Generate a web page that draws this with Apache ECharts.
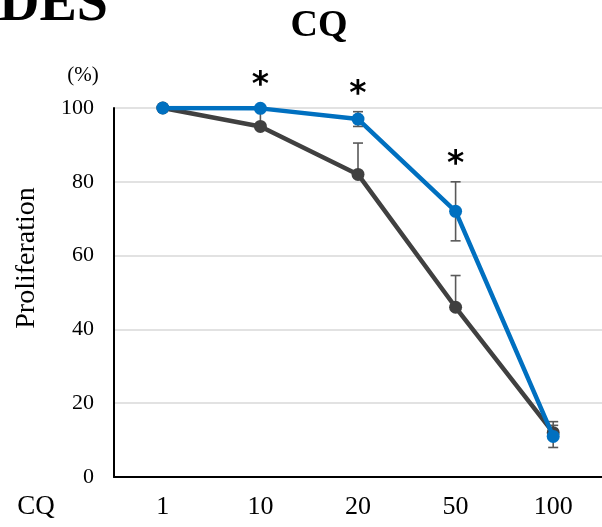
<!DOCTYPE html>
<html>
<head>
<meta charset="utf-8">
<script src="https://cdn.jsdelivr.net/npm/echarts@6/dist/echarts.min.js"></script>
<style>
html,body{margin:0;padding:0;background:#fff;}
#chart{width:602px;height:527px;}
</style>
</head>
<body>
<div id="chart"></div>
<script>
var categories = ['1', '10', '20', '50', '100'];
var blueValues = [100, 99.9, 97, 72, 11];
var blueErr = [0, 0, 2, 8, 3];
var grayValues = [100, 95, 82, 46, 12];
var grayErr = [0, 5, 8.5, 8.6, 3];
var yTicks = [0, 20, 40, 60, 80, 100];
var asteriskCats = ['10', '20', '50'];
var asteriskY = [105.8, 103.4, 84.4];

var SERIF = '"Liberation Serif","Times New Roman",serif';
var chart = echarts.init(document.getElementById('chart'), null, {renderer: 'canvas'});

function errSeries(values, errs, plusOnly, z) {
  var data = values.map(function (v, i) { return [i, v, errs[i]]; });
  return {
    type: 'custom',
    z: z,
    silent: true,
    clip: false,
    data: data,
    renderItem: function (params, api) {
      var i = api.value(0), v = api.value(1), e = api.value(2);
      if (!e) return null;
      var top = api.coord([i, v + e]);
      var mid = api.coord([i, v]);
      var bot = plusOnly ? mid : api.coord([i, v - e]);
      var hw = 5;
      var st = {stroke: '#595959', lineWidth: 1.6};
      var kids = [
        {type: 'line', shape: {x1: top[0], y1: top[1], x2: bot[0], y2: bot[1]}, style: st},
        {type: 'line', shape: {x1: top[0] - hw, y1: top[1], x2: top[0] + hw, y2: top[1]}, style: st}
      ];
      if (!plusOnly) kids.push({type: 'line', shape: {x1: bot[0] - hw, y1: bot[1], x2: bot[0] + hw, y2: bot[1]}, style: st});
      return {type: 'group', children: kids};
    }
  };
}

function asteriskSeries() {
  var data = asteriskCats.map(function (c, i) { return [categories.indexOf(c), asteriskY[i]]; });
  return {
    type: 'custom',
    z: 6,
    silent: true,
    clip: false,
    data: data,
    renderItem: function (params, api) {
      var p = api.coord([api.value(0), api.value(1)]);
      return {
        type: 'text',
        x: p[0], y: p[1],
        style: {text: '*', fill: '#000', font: 'bold 33px "DejaVu Sans",sans-serif', textAlign: 'center', textVerticalAlign: 'middle'}
      };
    }
  };
}

var option = {
  backgroundColor: '#fff',
  animation: false,
  grid: {left: 114, right: -6, top: 108, bottom: 50, containLabel: false},
  xAxis: {
    type: 'category',
    data: categories,
    boundaryGap: true,
    axisLine: {show: true, lineStyle: {color: '#000', width: 2}},
    axisTick: {show: false},
    axisLabel: {fontFamily: SERIF, fontSize: 26, color: '#000', margin: 17},
    splitLine: {show: false}
  },
  yAxis: {
    type: 'value',
    min: yTicks[0],
    max: yTicks[yTicks.length - 1],
    interval: yTicks[1] - yTicks[0],
    axisLine: {show: true, lineStyle: {color: '#000', width: 2}},
    axisTick: {show: false},
    axisLabel: {fontFamily: SERIF, fontSize: 22, color: '#000', margin: 20},
    splitLine: {show: true, lineStyle: {color: '#d9d9d9', width: 1.6}}
  },
  series: [
    errSeries(grayValues, grayErr, true, 1),
    errSeries(blueValues, blueErr, false, 1),
    {
      type: 'line', z: 3, data: grayValues,
      symbol: 'circle', symbolSize: 13,
      lineStyle: {color: '#404040', width: 4.5},
      itemStyle: {color: '#404040'}
    },
    {
      type: 'line', z: 4, data: blueValues,
      symbol: 'circle', symbolSize: 13,
      lineStyle: {color: '#0070C0', width: 4.5},
      itemStyle: {color: '#0070C0'}
    },
    asteriskSeries()
  ],
  graphic: [
    {type: 'text', x: 108, y: 34, style: {text: 'DES', fill: '#000', font: 'bold 56px ' + SERIF, textAlign: 'right', textVerticalAlign: 'bottom'}, silent: true},
    {type: 'text', x: 319, y: 26, style: {text: 'CQ', fill: '#000', font: 'bold 38px ' + SERIF, textAlign: 'center', textVerticalAlign: 'middle'}, silent: true},
    {type: 'text', x: 83, y: 75, style: {text: '(%)', fill: '#000', font: '21px ' + SERIF, textAlign: 'center', textVerticalAlign: 'middle'}, silent: true},
    {type: 'text', x: 27, y: 258, rotation: Math.PI / 2, style: {text: 'Proliferation', fill: '#000', font: '28px ' + SERIF, textAlign: 'center', textVerticalAlign: 'middle'}, silent: true},
    {type: 'text', x: 36, y: 507, style: {text: 'CQ', fill: '#000', font: '27px ' + SERIF, textAlign: 'center', textVerticalAlign: 'middle'}, silent: true}
  ]
};
chart.setOption(option);
</script>
</body>
</html>
